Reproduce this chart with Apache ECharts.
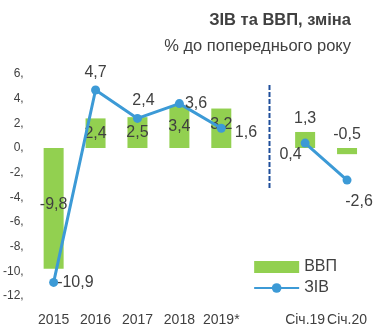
<!DOCTYPE html>
<html><head><meta charset="utf-8">
<script src="https://cdn.jsdelivr.net/npm/echarts@6/dist/echarts.min.js"></script>
<style>html,body{margin:0;padding:0;background:#fff}#c{width:380px;height:335px}</style>
</head><body><div id="c"></div>
<script>
var categories = ['2015','2016','2017','2018','2019*','','Січ.19','Січ.20'];
var gdp = [-9.8, 2.4, 2.5, 3.4, 3.2, null, 1.3, -0.5];
var ziv = [-10.9, 4.7, 2.4, 3.6, 1.6, null, 0.4, -2.6];
var gdpLabelPos = ['inside','inside','inside','inside','inside',null,'top','top'];
var zivLabelPos = ['right','top','top','right','right',null,'left','bottom'];
var yTicks = [-12,-10,-8,-6,-4,-2,0,2,4,6];
var separatorX = 5.15;
var separatorY = [5.1, -3.25];

function fmt(v){ return String(v).replace('.', ','); }
var ff = '"Liberation Sans", Arial, sans-serif';
var txt = '#404040';

var gdpLabelOffsets = [[0,-4],[0,0],[0,0],[0,0],[0,-4],null,[0,0],[0,0]];
var gdpData = gdp.map(function(v,i){
  if (v === null) return null;
  return {value: v, label: {show:true, position: gdpLabelPos[i], offset: gdpLabelOffsets[i]}};
});
var zivLabelOffsets = [[-6,0],[0,0],[6,0],[-4,0],[4,4],null,[6,12],[12,4]];
var zivData = ziv.map(function(v,i){
  if (v === null) return null;
  return {value: v, label: {show:true, position: zivLabelPos[i], offset: zivLabelOffsets[i]}};
});

var chart = echarts.init(document.getElementById('c'), null, {renderer:'canvas'});
chart.setOption({
  animation: false,
  textStyle: {fontFamily: ff},
  title: [
    {text: 'ЗІВ та ВВП, зміна', right: 24, top: 7, textStyle:{fontFamily: ff, fontSize: 16.5, fontWeight: 'bold', color: txt}},
    {text: '% до попереднього року', right: 24, top: 33, textStyle:{fontFamily: ff, fontSize: 16.5, fontWeight: 'normal', color: txt}}
  ],
  legend: {
    orient: 'vertical', right: 38, top: 254, itemGap: 5,
    itemWidth: 45, itemHeight: 12,
    textStyle: {fontFamily: ff, fontSize: 16, color: txt},
    data: [{name:'ВВП', icon:'rect'}, {name:'ЗІВ'}]
  },
  grid: {left: 31, right: 12, top: 74, bottom: 39},
  xAxis: [{
    type: 'category', data: categories,
    axisLine: {show:false}, axisTick: {show:false},
    axisLabel: {fontFamily: ff, fontSize: 14, color: txt, margin: 17, interval: 0}
  },{
    type: 'value', min: -0.5, max: 7.5, show: false
  }],
  yAxis: {
    type: 'value', min: -12, max: 6, interval: 2,
    axisLine: {show:false}, axisTick: {show:false}, splitLine: {show:false},
    axisLabel: {fontFamily: ff, fontSize: 12, color: txt, margin: 9, formatter: function(v){ return v + ','; }}
  },
  series: [{
    name: 'ВВП', type: 'bar', data: gdpData, barWidth: 20,
    itemStyle: {color: '#92D050'},
    label: {fontFamily: ff, fontSize: 16, color: txt, formatter: function(p){ return fmt(p.value); }}
  },{
    name: 'ЗІВ', type: 'line', data: zivData, connectNulls: false,
    symbol: 'circle', symbolSize: 9,
    lineStyle: {color: '#3C9AD6', width: 3},
    itemStyle: {color: '#3C9AD6'},
    label: {fontFamily: ff, fontSize: 16, color: txt, formatter: function(p){ return fmt(p.value); }}
  },{
    name: 'sep', type: 'line', xAxisIndex: 1, silent: true,
    data: [[separatorX, separatorY[0]], [separatorX, separatorY[1]]],
    symbol: 'none',
    lineStyle: {color: '#1F4E9A', width: 2, type: [5,2]}
  }]
});
</script></body></html>
